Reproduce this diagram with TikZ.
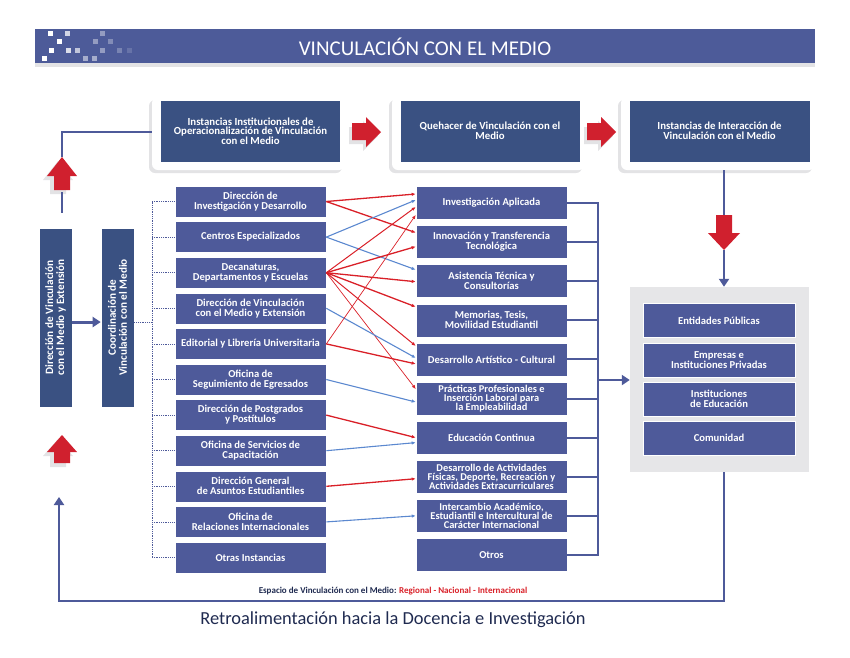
\documentclass[tikz,border=0pt]{standalone}
\usepackage{fontspec}
\setmainfont{Carlito}
\usetikzlibrary{arrows.meta}
\definecolor{barblue}{HTML}{4D5B99}
\definecolor{topblue}{HTML}{3A5182}
\definecolor{boxblue}{HTML}{4E5A9A}
\definecolor{linkblue}{HTML}{5B88CF}
\definecolor{linkred}{HTML}{D92028}
\definecolor{arrowred}{HTML}{D0202E}
\definecolor{panelgrey}{HTML}{E6E6E8}
\definecolor{shadowgrey}{HTML}{E3E3E5}
\definecolor{textnavy}{HTML}{1F2A50}

\begin{document}
\begin{tikzpicture}[x=1pt, y=-1pt,
    unitbox/.style = {fill = boxblue, draw = white, line width = 0.6pt, minimum width = 151, minimum height = 31, inner sep = 1pt, align = center, text = white, font = \bfseries\fontsize{10.6}{10}\selectfont},
    workbox/.style = {unitbox, minimum height = 33},
    topbox/.style = {unitbox, fill = topblue, minimum width = 180, minimum height = 62, font = \bfseries\fontsize{10.8}{9.6}\selectfont},
    entitybox/.style = {unitbox, minimum width = 152, minimum height = 34},
    sidebox/.style = {unitbox, fill = topblue, minimum width = 179, minimum height = 33, rotate = 90, font = \bfseries\fontsize{11.2}{11}\selectfont},
    frame/.style = {fill = white, rounded corners = 6pt, minimum width = 193, minimum height = 73},
    frameshadow/.style = {frame, fill = shadowgrey},
    redlink/.style = {draw = linkred, line width = 1.3pt, -{Latex[length = 4pt, width = 3.5pt]}},
    thinred/.style = {redlink, line width = 0.7pt},
    bluelink/.style = {draw = linkblue, line width = 1.1pt, -{Latex[length = 4pt, width = 3.5pt]}},
    mainline/.style = {draw = boxblue, line width = 2pt},
    dotline/.style = {draw = boxblue, line width = 0.8pt, densely dotted}]

    \useasboundingbox (0, 0) rectangle (850, 657);

    % title bar
    \node [fill = barblue, minimum width = 780, minimum height = 34, inner sep = 0pt] (bar) at (425, 46) {};
    \fill [shadowgrey] (35, 63) rectangle (815, 67);
    \foreach \px/\py/\op in {48/31/1, 65/31/.75, 57/39/1, 49/48/1, 66/48/.8, 75/48/.65, 42/56/1, 83/56/.5, 92/56/.5, 100/31/.4, 93/39/.4, 108/39/.3, 100/48/.4, 117/48/.25, 127/48/.15}
        \fill [white, opacity = \op] (\px, \py) rectangle ++(4.5, 4.5);
    \node [text = white, font = \fontsize{21}{23}\selectfont] (title) at (425, 47) {VINCULACIÓN CON EL MEDIO};

    % top row
    \node [frameshadow] at (245.5, 136.5) {};
    \node [frame] (f1) at (248.5, 133.5) {};
    \node [topbox] (t1) at (250.5, 131) {Instancias Institucionales de\\Operacionalización de Vinculación\\con el Medio};

    \node [frameshadow] at (485.5, 136.5) {};
    \node [frame] (f2) at (488.5, 133.5) {};
    \node [topbox] (t2) at (490, 131) {Quehacer de Vinculación con el\\Medio};

    \node [frameshadow, minimum width = 194] at (715, 136.5) {};
    \node [frame, minimum width = 194] (f3) at (718, 133.5) {};
    \node [topbox, minimum width = 181] (t3) at (719.5, 131) {Instancias de Interacción de\\Vinculación con el Medio};

    % red block arrows
    \fill [shadowgrey] (349, 127) -- (363, 127) -- (363, 121) -- (378, 136) -- (363, 151) -- (363, 144) -- (349, 144) -- cycle;
    \fill [arrowred] (352, 123) -- (366, 123) -- (366, 117) -- (381, 132) -- (366, 147) -- (366, 140) -- (352, 140) -- cycle;
    \fill [shadowgrey] (584, 127) -- (598, 127) -- (598, 121) -- (613, 136) -- (598, 151) -- (598, 144) -- (584, 144) -- cycle;
    \fill [arrowred] (587, 123) -- (601, 123) -- (601, 117) -- (616, 132) -- (601, 147) -- (601, 140) -- (587, 140) -- cycle;
    \fill [shadowgrey] (58, 161) -- (73, 180) -- (66, 180) -- (66, 194) -- (50, 194) -- (50, 180) -- (43, 180) -- cycle;
    \fill [arrowred] (62, 157) -- (77, 176) -- (70, 176) -- (70, 190) -- (54, 190) -- (54, 176) -- (47, 176) -- cycle;
    \fill [shadowgrey] (58, 439) -- (73, 456) -- (66, 456) -- (66, 467) -- (50, 467) -- (50, 456) -- (43, 456) -- cycle;
    \fill [arrowred] (62, 435) -- (77, 452) -- (70, 452) -- (70, 463) -- (54, 463) -- (54, 452) -- (47, 452) -- cycle;
    \fill [arrowred] (716, 215) -- (732, 215) -- (732, 233) -- (740, 233) -- (724, 250) -- (708, 233) -- (716, 233) -- cycle;

    \coordinate (upa) at (62, 157);
    \coordinate (upb) at (62, 192);
    \coordinate (upc) at (62, 213);
    \coordinate (dna) at (724, 215);
    \coordinate (dnb) at (724, 250);
    \coordinate (back) at (59, 497);

    % side boxes
    \node [sidebox] (va) at (55.5, 317.5) {Dirección de Vinculación\\con el Medio y Extensión};
    \node [sidebox] (vb) at (117.5, 317.5) {Coordinación de\\Vinculación con el Medio};
    \draw [draw = boxblue, line width = 3pt, -{Triangle[length = 8pt, width = 10pt]}] (va.south |- 0, 322) -- (vb.north |- 0, 322);

    % left column
    \node [unitbox] (l1) at (250.5, 201.5) {Dirección de\\Investigación y Desarrollo};
    \node [unitbox] (l2) at (250.5, 237.1) {Centros Especializados};
    \node [unitbox] (l3) at (250.5, 272.7) {Decanaturas,\\Departamentos y Escuelas};
    \node [unitbox] (l4) at (250.5, 308.3) {Dirección de Vinculación\\con el Medio y Extensión};
    \node [unitbox] (l5) at (250.5, 343.9) {Editorial y Librería Universitaria};
    \node [unitbox] (l6) at (250.5, 379.5) {Oficina de\\Seguimiento de Egresados};
    \node [unitbox] (l7) at (250.5, 415.1) {Dirección de Postgrados\\y Postítulos};
    \node [unitbox] (l8) at (250.5, 450.7) {Oficina de Servicios de\\Capacitación};
    \node [unitbox] (l9) at (250.5, 486.3) {Dirección General\\de Asuntos Estudiantiles};
    \node [unitbox] (l10) at (250.5, 521.9) {Oficina de\\Relaciones Internacionales};
    \node [unitbox] (l11) at (250.5, 557.5) {Otras Instancias};

    % middle column
    \node [workbox] (m1) at (491.5, 203) {Investigación Aplicada};
    \node [workbox] (m2) at (491.5, 242.1) {Innovación y Transferencia\\Tecnológica};
    \node [workbox] (m3) at (491.5, 281.2) {Asistencia Técnica y\\Consultorías};
    \node [workbox] (m4) at (491.5, 320.3) {Memorias, Tesis,\\Movilidad Estudiantil};
    \node [workbox] (m5) at (491.5, 359.4) {Desarrollo Artístico - Cultural};
    \node [workbox, font = \bfseries\fontsize{10.4}{9}\selectfont] (m6) at (491.5, 398.5) {Prácticas Profesionales e\\Inserción Laboral para\\la Empleabilidad};
    \node [workbox] (m7) at (491.5, 437.6) {Educación Continua};
    \node [workbox, font = \bfseries\fontsize{10.4}{9}\selectfont] (m8) at (491.5, 476.7) {Desarrollo de Actividades\\Físicas, Deporte, Recreación y\\Actividades Extracurriculares};
    \node [workbox, font = \bfseries\fontsize{10.4}{9}\selectfont] (m9) at (491.5, 515.8) {Intercambio Académico,\\Estudiantil e Intercultural de\\Carácter Internacional};
    \node [workbox] (m10) at (491.5, 555) {Otros};

    % interaction panel
    \node [fill = panelgrey, minimum width = 179, minimum height = 185, inner sep = 0pt] (panel) at (719.5, 379.5) {};
    \node [entitybox] (e1) at (719, 320.5) {Entidades Públicas};
    \node [entitybox] (e2) at (719, 360) {Empresas e\\Instituciones Privadas};
    \node [entitybox] (e3) at (719, 399) {Instituciones\\de Educación};
    \node [entitybox] (e4) at (719, 438) {Comunidad};

    % dotted tree
    \draw [dotline] (vb.south |- 0, 322) -- (152, 322);
    \draw [dotline] (l1.west -| 152, 0) -- (l11.west -| 152, 0);
    \draw [dotline] (l1.west -| 152, 0) -- (l1.west);
    \draw [dotline] (l2.west -| 152, 0) -- (l2.west);
    \draw [dotline] (l3.west -| 152, 0) -- (l3.west);
    \draw [dotline] (l4.west -| 152, 0) -- (l4.west);
    \draw [dotline] (l5.west -| 152, 0) -- (l5.west);
    \draw [dotline] (l6.west -| 152, 0) -- (l6.west);
    \draw [dotline] (l7.west -| 152, 0) -- (l7.west);
    \draw [dotline] (l8.west -| 152, 0) -- (l8.west);
    \draw [dotline] (l9.west -| 152, 0) -- (l9.west);
    \draw [dotline] (l10.west -| 152, 0) -- (l10.west);
    \draw [dotline] (l11.west -| 152, 0) -- (l11.west);

    % links
    \draw [redlink] (l1.east) -- ([yshift = 9pt] m1.west);
    \draw [redlink] (l1.east) -- ([yshift = 9.5pt] m2.west);
    \draw [bluelink] (l2.east) -- ([yshift = 3pt] m1.west);
    \draw [bluelink] (l2.east) -- ([yshift = 11.5pt] m3.west);
    \draw [redlink, line width = 1pt] (l3.east) -- ([yshift = -4pt] m1.west);
    \draw [redlink] (l3.east) -- ([yshift = -4.5pt] m2.west);
    \draw [redlink] (l3.east) -- ([yshift = -0.5pt] m3.west);
    \draw [redlink] (l3.east) -- ([yshift = 13.5pt] m4.west);
    \draw [redlink, line width = 1pt] (l3.east) -- ([yshift = 13.5pt] m5.west);
    \draw [thinred] (l3.east) -- ([yshift = 9.5pt] m6.west);
    \draw [bluelink] (l4.east) -- ([yshift = 1.5pt] m5.west);
    \draw [thinred] (l5.east) -- ([yshift = -12pt] m1.west);
    \draw [redlink] (l5.east) -- ([yshift = -4.5pt] m5.west);
    \draw [bluelink] (l6.east) -- ([yshift = -3.5pt] m6.west);
    \draw [redlink] (l7.east) -- ([yshift = 0pt] m7.west);
    \draw [bluelink] (l8.east) -- ([yshift = -5pt] m7.west);
    \draw [redlink] (l9.east) -- ([yshift = -2pt] m8.west);
    \draw [bluelink] (l10.east) -- ([yshift = 0pt] m9.west);

    % bracket to panel
    \draw [mainline] (m1.east) -- (m1.east -| 598, 0) -- (m10.east -| 598, 0) -- (m10.east);
    \draw [mainline] (m2.east) -- (m2.east -| 598, 0);
    \draw [mainline] (m3.east) -- (m3.east -| 598, 0);
    \draw [mainline] (m4.east) -- (m4.east -| 598, 0);
    \draw [mainline] (m5.east) -- (m5.east -| 598, 0);
    \draw [mainline] (m6.east) -- (m6.east -| 598, 0);
    \draw [mainline] (m7.east) -- (m7.east -| 598, 0);
    \draw [mainline] (m8.east) -- (m8.east -| 598, 0);
    \draw [mainline] (m9.east) -- (m9.east -| 598, 0);
    \draw [mainline, -{Triangle[length = 8pt, width = 10pt]}] (598, 380) -- (panel.west |- 0, 380);

    % flow lines
    \draw [mainline] (f1.west |- 0, 132) -| (upa);
    \draw [mainline] (upb) -- (upc);
    \draw [mainline] (f3.south -| dna) -- (dna);
    \draw [mainline, -{Triangle[length = 8pt, width = 10pt]}] (dnb) -- (panel.north -| dnb);
    \draw [mainline, -{Triangle[length = 8pt, width = 10pt]}] (panel.south -| dnb) -- (724, 601) -- (59, 601) -- (back);

    % captions
    \node [font = \bfseries\fontsize{9}{10}\selectfont, text = textnavy] (space) at (393, 591) {Espacio de Vinculación con el Medio: \textcolor{linkred}{Regional - Nacional - Internacional}};
    \node [font = \fontsize{18.4}{20}\selectfont, text = textnavy] (feedback) at (393, 620) {Retroalimentación hacia la Docencia e Investigación};

\end{tikzpicture}
\end{document}
